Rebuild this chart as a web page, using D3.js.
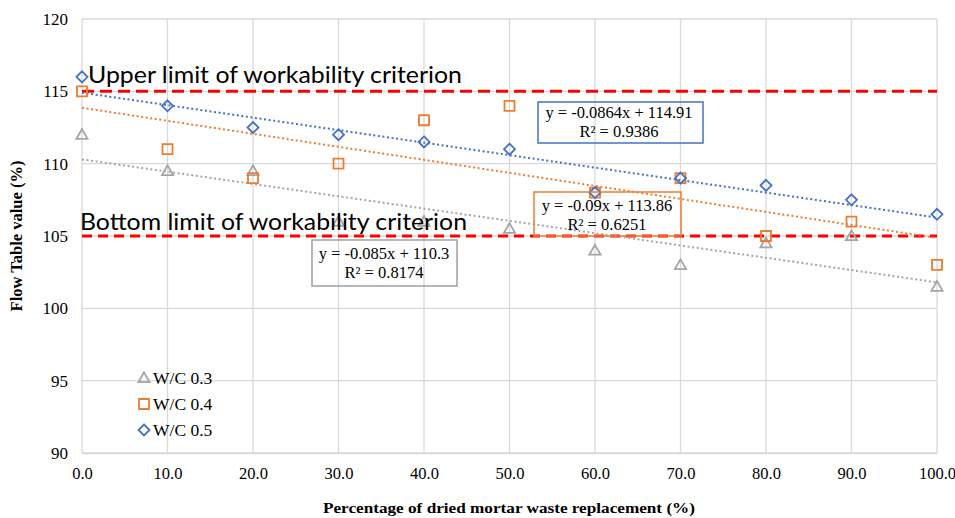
<!DOCTYPE html>
<html>
<head>
<meta charset="utf-8">
<script src="https://cdn.jsdelivr.net/npm/d3@7"></script>
<style>
  html, body { margin: 0; padding: 0; background: #fff; }
  svg { display: block; }
</style>
</head>
<body>
<svg id="chart" width="955" height="518"></svg>
<script>
// ---- data ----
const categories = [0, 10, 20, 30, 40, 50, 60, 70, 80, 90, 100];
const seriesNames = ["W/C 0.3", "W/C 0.4", "W/C 0.5"];
const wc03 = [112, 109.5, 109.5, 106, 106, 105.5, 104, 103, 104.5, 105, 101.5];
const wc04 = [115, 111, 109, 110, 113, 114, 108, 109, 105, 106, 103];
const wc05 = [116, 114, 112.5, 112, 111.5, 111, 108, 109, 108.5, 107.5, 106.5];
const yTicks = [90, 95, 100, 105, 110, 115, 120];
const xTicks = [0, 10, 20, 30, 40, 50, 60, 70, 80, 90, 100];
const limitValues = [115, 105];
const limitLabels = ["Upper limit of workability criterion", "Bottom limit of workability criterion"];
const eqLines03 = ["y = -0.085x + 110.3", "R² = 0.8174"];
const eqLines04 = ["y = -0.09x + 113.86", "R² = 0.6251"];
const eqLines05 = ["y = -0.0864x + 114.91", "R² = 0.9386"];
const xTitle = "Percentage of dried mortar waste replacement (%)";
const yTitle = "Flow Table value (%)";

// ---- layout ----
const svg = d3.select("#chart");
const pL = 82, pR = 937, pT = 19, pB = 453;
const x = d3.scaleLinear().domain([0, 100]).range([pL, pR]);
const y = d3.scaleLinear().domain([90, 120]).range([pB, pT]);

const colors = ["#A5A5A5", "#ED7D31", "#4472C4"];
const serif = "'Liberation Serif', 'Times New Roman', serif";
const sans = "Lato, 'Open Sans', sans-serif";

// gridlines
const grid = svg.append("g");
grid.selectAll("line.h").data(yTicks).join("line")
  .attr("x1", pL).attr("x2", pR)
  .attr("y1", d => y(d)).attr("y2", d => y(d))
  .attr("stroke", "#d9d9d9").attr("stroke-width", 1.3);
grid.selectAll("line.v").data(xTicks).join("line")
  .attr("y1", pT).attr("y2", pB)
  .attr("x1", d => x(d)).attr("x2", d => x(d))
  .attr("stroke", "#d9d9d9").attr("stroke-width", 1.3);

// axes (labels only)
const yAxis = d3.axisLeft(y).tickValues(yTicks).tickSize(0).tickPadding(14).tickFormat(d3.format("d"));
const gy = svg.append("g").attr("transform", `translate(${pL},0)`).call(yAxis);
gy.select(".domain").remove();
gy.selectAll("text").attr("font-family", serif).attr("font-size", 17).attr("fill", "#000");

const xAxis = d3.axisBottom(x).tickValues(xTicks).tickSize(0).tickPadding(14).tickFormat(d3.format(".1f"));
const gx = svg.append("g").attr("transform", `translate(0,${pB})`).call(xAxis);
gx.select(".domain").attr("stroke", "#d9d9d9").attr("stroke-width", 1.3);
gx.selectAll("text").attr("font-family", serif).attr("font-size", 16.5).attr("fill", "#000");

// limit lines
svg.append("g").selectAll("line").data(limitValues).join("line")
  .attr("x1", pL).attr("x2", pR)
  .attr("y1", d => y(d)).attr("y2", d => y(d))
  .attr("stroke", "#FF0000").attr("stroke-width", (d, i) => i === 0 ? 3 : 2.8)
  .attr("stroke-dasharray", (d, i) => i === 0 ? "12,6" : "10,6");

// trendlines (least squares)
const allSeries = [wc03, wc04, wc05];
function fit(vals) {
  const mx = d3.mean(categories), my = d3.mean(vals);
  let num = 0, den = 0;
  categories.forEach((c, i) => { num += (c - mx) * (vals[i] - my); den += (c - mx) * (c - mx); });
  const b = num / den;
  return { b, a: my - b * mx };
}
const trend = svg.append("g");
allSeries.forEach((vals, si) => {
  const f = fit(vals);
  trend.append("line")
    .attr("x1", x(0)).attr("x2", x(100))
    .attr("y1", y(f.a)).attr("y2", y(f.a + f.b * 100))
    .attr("stroke", colors[si]).attr("stroke-width", 2)
    .attr("stroke-dasharray", "2,2.6");
});

// markers
function markerPath(si) {
  if (si === 0) return "M0,-5.6L5.6,4.2L-5.6,4.2Z";
  if (si === 1) return "M-5,-5L5,-5L5,5L-5,5Z";
  return "M0,-5.5L5.5,0L0,5.5L-5.5,0Z";
}
allSeries.forEach((vals, si) => {
  svg.append("g").selectAll("path").data(vals).join("path")
    .attr("d", markerPath(si))
    .attr("transform", (d, i) => `translate(${x(categories[i])},${y(d)})`)
    .attr("fill", "none").attr("stroke", colors[si]).attr("stroke-width", 1.8);
});

// limit labels
const limitLabelPos = [{ x: 88, y: 83, len: 374 }, { x: 80, y: 230, len: 387 }];
svg.append("g").selectAll("text").data(limitLabels).join("text")
  .attr("x", (d, i) => limitLabelPos[i].x).attr("y", (d, i) => limitLabelPos[i].y)
  .attr("textLength", (d, i) => limitLabelPos[i].len).attr("lengthAdjust", "spacingAndGlyphs")
  .attr("font-family", sans).attr("font-size", 24).attr("fill", "#000")
  .text(d => d);

// equation boxes
const boxes = [
  { lines: eqLines05, color: colors[2], x0: 538, y0: 102, x1: 703, y1: 143, cx: 619, b1: 118, b2: 137 },
  { lines: eqLines04, color: colors[1], x0: 534, y0: 192, x1: 681, y1: 236, cx: 607, b1: 211, b2: 230 },
  { lines: eqLines03, color: "#a0a0a0", x0: 312, y0: 240, x1: 457, y1: 286, cx: 384, b1: 259, b2: 278 }
];
boxes.forEach(bx => {
  const g = svg.append("g");
  g.append("rect").attr("x", bx.x0).attr("y", bx.y0)
    .attr("width", bx.x1 - bx.x0).attr("height", bx.y1 - bx.y0)
    .attr("fill", "none").attr("stroke", bx.color).attr("stroke-width", 1.5);
  g.selectAll("text").data(bx.lines).join("text")
    .attr("x", bx.cx).attr("y", (d, i) => i === 0 ? bx.b1 : bx.b2)
    .attr("text-anchor", "middle").attr("font-family", serif).attr("font-size", 16.5)
    .attr("fill", "#000").text(d => d);
});

// legend
const legend = svg.append("g");
const legY = [378, 404, 430];
seriesNames.forEach((name, si) => {
  legend.append("path").attr("d", markerPath(si))
    .attr("transform", `translate(144,${legY[si]})`)
    .attr("fill", "none").attr("stroke", colors[si]).attr("stroke-width", 1.8);
  legend.append("text").attr("x", 153).attr("y", legY[si] + 6)
    .attr("font-family", serif).attr("font-size", 17.5).attr("fill", "#000").text(name);
});

// axis titles
svg.append("text").attr("x", 509).attr("y", 513).attr("text-anchor", "middle")
  .attr("font-family", serif).attr("font-weight", "bold").attr("font-size", 15.5)
  .attr("textLength", 372).attr("lengthAdjust", "spacingAndGlyphs")
  .text(xTitle);
svg.append("text").attr("transform", "translate(22,236) rotate(-90)").attr("text-anchor", "middle")
  .attr("font-family", serif).attr("font-weight", "bold").attr("font-size", 16.5)
  .text(yTitle);
</script>
</body>
</html>
